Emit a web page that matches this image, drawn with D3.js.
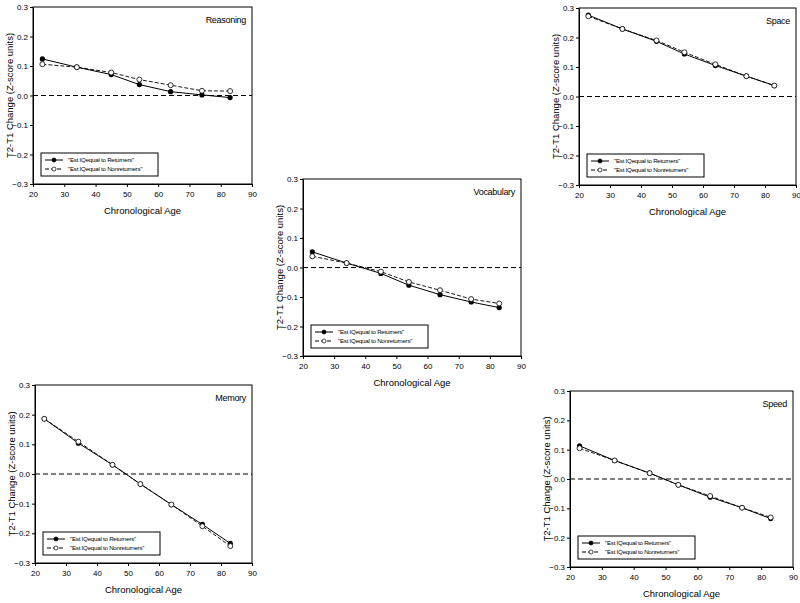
<!DOCTYPE html>
<html>
<head>
<meta charset="utf-8">
<script src="https://cdn.jsdelivr.net/npm/d3@7"></script>
<style>
  html, body { margin: 0; padding: 0; background: #fff; }
  svg { display: block; font-family: "Liberation Sans", Arial, sans-serif; }
</style>
</head>
<body>
<svg id="chart" width="800" height="603"></svg>
<script>
// ---- Data ----
const ages = [23, 34, 45, 54, 64, 74, 83];
const xTicks = [20, 30, 40, 50, 60, 70, 80, 90];
const yTicks = [-0.3, -0.2, -0.1, 0.0, 0.1, 0.2, 0.3];
const seriesNames = ['"Est IQequal to Returners"', '"Est IQequal to Nonreturners"'];

const reasoningReturners    = [0.124, 0.096, 0.071, 0.037, 0.013, 0.002, -0.007];
const reasoningNonreturners = [0.106, 0.096, 0.078, 0.054, 0.035, 0.016, 0.015];

const spaceReturners    = [0.276, 0.229, 0.187, 0.144, 0.105, 0.069, 0.037];
const spaceNonreturners = [0.272, 0.229, 0.190, 0.150, 0.109, 0.069, 0.037];

const vocabularyReturners    = [0.053, 0.015, -0.020, -0.060, -0.092, -0.117, -0.136];
const vocabularyNonreturners = [0.038, 0.015, -0.014, -0.049, -0.077, -0.107, -0.122];

const memoryReturners    = [0.186, 0.104, 0.031, -0.034, -0.103, -0.170, -0.234];
const memoryNonreturners = [0.186, 0.109, 0.031, -0.034, -0.103, -0.176, -0.243];

const speedReturners    = [0.113, 0.063, 0.020, -0.020, -0.062, -0.098, -0.135];
const speedNonreturners = [0.105, 0.063, 0.020, -0.020, -0.058, -0.098, -0.131];

const panelTitles = ["Reasoning", "Space", "Vocabulary", "Memory", "Speed"];
const panelData = [
  [reasoningReturners, reasoningNonreturners],
  [spaceReturners, spaceNonreturners],
  [vocabularyReturners, vocabularyNonreturners],
  [memoryReturners, memoryNonreturners],
  [speedReturners, speedNonreturners]
];

// ---- Layout (plot frames) ----
const frames = [
  {x0: 33,  x1: 252, y0: 7,   y1: 184},
  {x0: 579, x1: 796, y0: 8,   y1: 185},
  {x0: 303, x1: 521, y0: 179, y1: 356},
  {x0: 35,  x1: 252, y0: 385, y1: 563},
  {x0: 570, x1: 793, y0: 391, y1: 567}
];

const svg = d3.select("#chart");

panelTitles.forEach((title, i) => {
  const f = frames[i];
  const x = d3.scaleLinear().domain([20, 90]).range([f.x0, f.x1]);
  const y = d3.scaleLinear().domain([-0.3, 0.3]).range([f.y1, f.y0]);
  const g = svg.append("g");

  // frame
  g.append("rect")
    .attr("x", f.x0).attr("y", f.y0)
    .attr("width", f.x1 - f.x0).attr("height", f.y1 - f.y0)
    .attr("fill", "none").attr("stroke", "#000").attr("stroke-width", 1);

  // axes
  const xAxis = d3.axisBottom(x).tickValues(xTicks).tickSize(3).tickSizeOuter(0).tickFormat(d3.format("d"));
  const yAxis = d3.axisLeft(y).tickValues(yTicks).tickSize(3).tickSizeOuter(0).tickFormat(d3.format(".1f"));
  const gx = g.append("g").attr("transform", `translate(0,${f.y1})`).call(xAxis);
  const gy = g.append("g").attr("transform", `translate(${f.x0},0)`).call(yAxis);
  [gx, gy].forEach(ax => {
    ax.select(".domain").attr("stroke", "#000");
    ax.selectAll(".tick line").attr("stroke", "#000");
    ax.selectAll(".tick text").attr("font-size", 8).attr("fill", "#000")
      .attr("font-family", '"Liberation Sans", Arial, sans-serif');
  });
  gx.selectAll(".tick text").attr("dy", "0.9em");
  gy.selectAll(".tick text").attr("x", -5);

  // zero reference line
  g.append("line")
    .attr("x1", f.x0).attr("x2", f.x1)
    .attr("y1", y(0)).attr("y2", y(0))
    .attr("stroke", "#000").attr("stroke-width", 1)
    .attr("stroke-dasharray", "5,3");

  // axis titles
  g.append("text")
    .attr("x", (f.x0 + f.x1) / 2).attr("y", f.y1 + 30)
    .attr("text-anchor", "middle").attr("font-size", 9.5)
    .text("Chronological Age");
  g.append("text")
    .attr("transform", `translate(${f.x0 - 20},${(f.y0 + f.y1) / 2}) rotate(-90)`)
    .attr("text-anchor", "middle").attr("font-size", 9.5)
    .text("T2-T1 Change (Z-score units)");

  // panel title
  g.append("text")
    .attr("x", f.x1 - 6).attr("y", f.y0 + 16)
    .attr("text-anchor", "end").attr("font-size", 9)
    .attr("letter-spacing", -0.3)
    .text(title);

  // series
  const [ret, non] = panelData[i];
  const line = d3.line().x((d, k) => x(ages[k])).y(d => y(d));

  g.append("path").datum(non).attr("d", line)
    .attr("fill", "none").attr("stroke", "#000").attr("stroke-width", 0.9)
    .attr("stroke-dasharray", "4,2");
  g.append("path").datum(ret).attr("d", line)
    .attr("fill", "none").attr("stroke", "#000").attr("stroke-width", 1);

  g.selectAll(".ret").data(ret).enter().append("circle")
    .attr("cx", (d, k) => x(ages[k])).attr("cy", d => y(d)).attr("r", 2.6)
    .attr("fill", "#000");
  g.selectAll(".non").data(non).enter().append("circle")
    .attr("cx", (d, k) => x(ages[k])).attr("cy", d => y(d)).attr("r", 2.5)
    .attr("fill", "#fff").attr("stroke", "#000").attr("stroke-width", 0.8);

  // legend
  const lx = f.x0 + 8, ly = f.y1 - 31, lw = 117, lh = 23;
  const lg = g.append("g");
  lg.append("rect").attr("x", lx).attr("y", ly).attr("width", lw).attr("height", lh)
    .attr("fill", "#fff").attr("stroke", "#000").attr("stroke-width", 1);
  seriesNames.forEach((name, k) => {
    const ry = ly + 7 + k * 9;
    lg.append("line").attr("x1", lx + 4).attr("x2", lx + 22).attr("y1", ry).attr("y2", ry)
      .attr("stroke", "#000").attr("stroke-width", 1)
      .attr("stroke-dasharray", k === 1 ? "4,2" : null);
    lg.append("circle").attr("cx", lx + 13).attr("cy", ry).attr("r", 2)
      .attr("fill", k === 0 ? "#000" : "#fff").attr("stroke", "#000").attr("stroke-width", 0.7);
    lg.append("text").attr("x", lx + 27).attr("y", ry + 2)
      .attr("font-size", 6.2).attr("letter-spacing", -0.25)
      .text(name);
  });
});
</script>
</body>
</html>
